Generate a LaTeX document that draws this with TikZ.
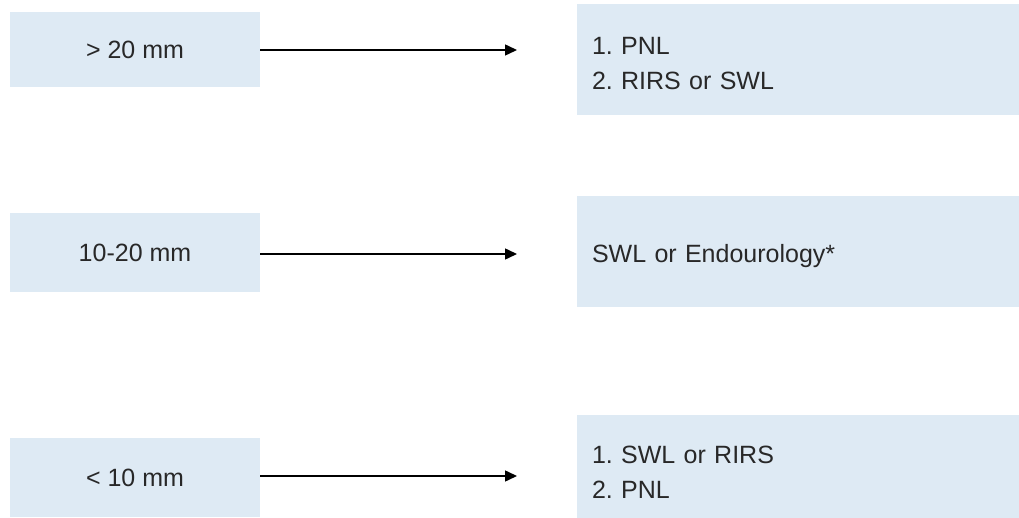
\documentclass[tikz,border=0pt]{standalone}
\usepackage{fontspec}
\setmainfont{Liberation Sans}
\usetikzlibrary{arrows.meta}
\definecolor{boxfill}{RGB}{222,234,244}
\definecolor{txt}{RGB}{40,40,40}
\frenchspacing
\newcommand{\lowertext}[2]{\raisebox{-#1}[\height][\depth]{\begin{tabular}{@{}l@{}}#2\end{tabular}}}
\begin{document}
\begin{tikzpicture}[x=1pt,y=-1pt,
  every node/.style={font=\fontsize{25}{35}\selectfont\frenchspacing, text=txt},
  sizebox/.style={fill=boxfill, draw=none, minimum width=250pt, inner sep=0pt, anchor=center},
  treatbox/.style={fill=boxfill, draw=none, minimum width=442pt, text width=412pt, inner xsep=15pt, inner ysep=0pt, align=left, anchor=center},
  arr/.style={line width=1.5pt, -{Triangle[length=12pt,width=11pt]}}]
\useasboundingbox (0,0) rectangle (1019,518);
\node[sizebox, minimum height=75pt] (l1) at (135,49.5) {> 20 mm};
\node[sizebox, minimum height=79pt] (l2) at (135,252.5) {10-20 mm};
\node[sizebox, minimum height=79pt] (l3) at (135,477.5) {< 10 mm};
\node[treatbox, minimum height=111pt] (r1) at (798,59.5) {\lowertext{6pt}{1. PNL\\2. RIRS or SWL}};
\node[treatbox, minimum height=111pt] (r2) at (798,251.5) {\lowertext{4pt}{SWL or Endourology*}};
\node[treatbox, minimum height=103pt] (r3) at (798,466.5) {\lowertext{7pt}{1. SWL or RIRS\\2. PNL}};
\coordinate (t1) at (517,50);
\coordinate (t2) at (517,254);
\coordinate (t3) at (517,476);
\draw[arr] (l1.east |- t1) -- (t1);
\draw[arr] (l2.east |- t2) -- (t2);
\draw[arr] (l3.east |- t3) -- (t3);
\end{tikzpicture}
\end{document}
